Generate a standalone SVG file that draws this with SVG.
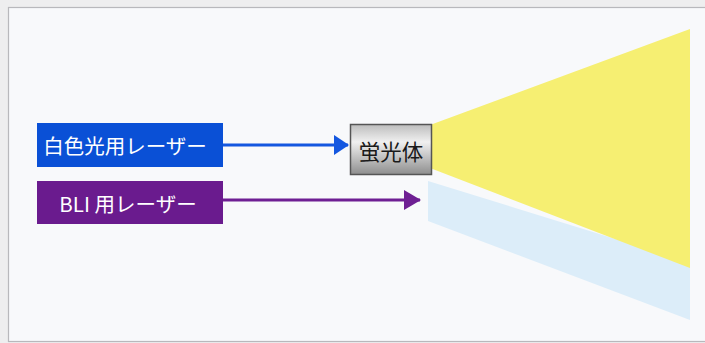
<svg xmlns="http://www.w3.org/2000/svg" width="705" height="343" viewBox="0 0 705 343">
<style>
.lbl{font-family:"Noto Sans CJK JP","Noto Sans",sans-serif;font-size:20.5px;fill:#ffffff;text-anchor:middle;dominant-baseline:central}
.dark{fill:#1a1a1a;font-size:21.5px}
</style>
<defs>
<linearGradient id="gbox" x1="0" y1="0" x2="0" y2="1">
<stop offset="0" stop-color="#bdbdbd"/>
<stop offset="0.35" stop-color="#f0f0f0"/>
<stop offset="1" stop-color="#8e8e8e"/>
</linearGradient>
<marker id="ahB" markerWidth="15" markerHeight="20" refX="14" refY="10" orient="auto" markerUnits="userSpaceOnUse">
<path d="M0,0 L15,10 L0,20 Z" fill="#1457e0"/>
</marker>
<marker id="ahP" markerWidth="17" markerHeight="20" refX="16" refY="10" orient="auto" markerUnits="userSpaceOnUse">
<path d="M0,0 L17,10 L0,20 Z" fill="#6e1f93"/>
</marker>
</defs>
<rect x="0" y="0" width="705" height="343" fill="#eeeeef"/>
<rect x="8.5" y="7.5" width="700" height="334" fill="#f8f9fb" stroke="#b8b8bc" stroke-width="1.2"/>
<g id="beams">
<polygon points="428,181 690,262 690,320 428,221" fill="#dcedf9"/>
<polygon points="430,125 690,29 690,268 430,168" fill="#f6ef72"/>
</g>
<g id="connectors">
<line x1="223" y1="145" x2="348" y2="145" stroke="#1457e0" stroke-width="3" marker-end="url(#ahB)"/>
<line x1="223" y1="200" x2="420" y2="200" stroke="#6e1f93" stroke-width="3" marker-end="url(#ahP)"/>
</g>
<g id="white-laser">
<rect x="37" y="123" width="186" height="44" fill="#0a50d6"/>
<text class="lbl" x="125" y="145">白色光用レーザー</text>
</g>
<g id="bli-laser">
<rect x="37" y="181" width="186" height="43" fill="#6a1b8e"/>
<text class="lbl" x="128" y="203">BLI 用レーザー</text>
</g>
<g id="phosphor">
<rect x="350.5" y="124.5" width="81" height="50" fill="url(#gbox)" stroke="#555" stroke-width="1.5"/>
<text class="lbl dark" x="391" y="150">蛍光体</text>
</g>
</svg>
